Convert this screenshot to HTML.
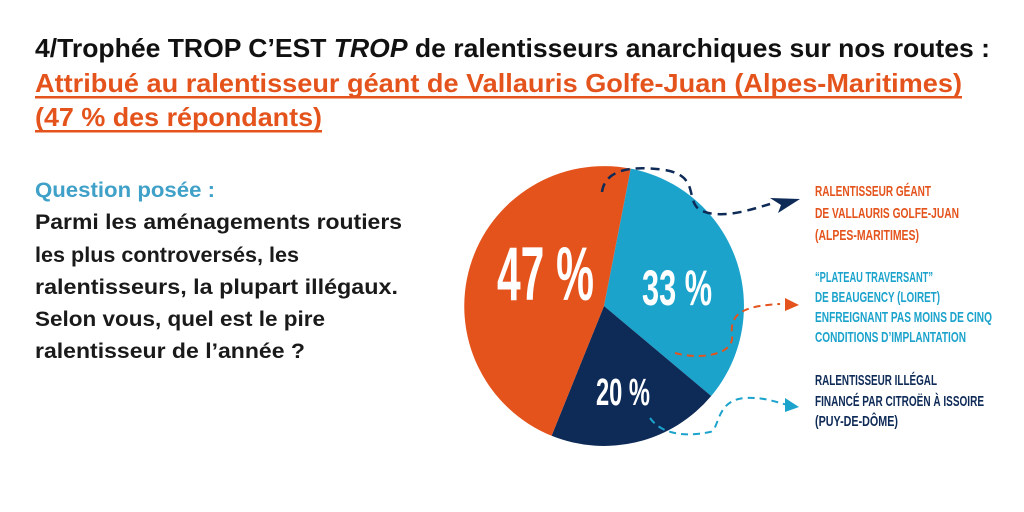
<!DOCTYPE html>
<html><head><meta charset="utf-8"><style>
html,body{margin:0;padding:0;background:#fff;}
svg{display:block;}
text{font-family:"Liberation Sans Narrow","Liberation Sans",sans-serif;}
.t{font-family:"Liberation Sans",sans-serif;font-weight:bold;}
</style></head><body>
<svg width="1024" height="512" viewBox="0 0 1024 512" xmlns="http://www.w3.org/2000/svg">
<rect width="1024" height="512" fill="#fff"/>
<text class="t" x="35" y="57" font-size="26" fill="#111" textLength="955" lengthAdjust="spacingAndGlyphs">4/Trophée TROP C’EST <tspan font-style="italic">TROP</tspan> de ralentisseurs anarchiques sur nos routes :</text>
<text class="t" x="35" y="92" font-size="26" fill="#e4531c" textLength="927" lengthAdjust="spacingAndGlyphs">Attribué au ralentisseur géant de Vallauris Golfe-Juan (Alpes-Maritimes)</text>
<rect x="35" y="96" width="927" height="2.5" fill="#e4531c"/>
<text class="t" x="35" y="126" font-size="26" fill="#e4531c" textLength="287" lengthAdjust="spacingAndGlyphs">(47 % des répondants)</text>
<rect x="35" y="130" width="287" height="2.5" fill="#e4531c"/>

<text class="t" x="35" y="197" font-size="21" fill="#3fa0c8" textLength="180" lengthAdjust="spacingAndGlyphs">Question posée :</text>
<g class="t" font-size="21" fill="#1a1a1a">
<text class="t" x="35" y="229" textLength="367" lengthAdjust="spacingAndGlyphs">Parmi les aménagements routiers</text>
<text class="t" x="35" y="262" textLength="264" lengthAdjust="spacingAndGlyphs">les plus controversés, les</text>
<text class="t" x="35" y="294" textLength="363" lengthAdjust="spacingAndGlyphs">ralentisseurs, la plupart illégaux.</text>
<text class="t" x="35" y="326" textLength="290" lengthAdjust="spacingAndGlyphs">Selon vous, quel est le pire</text>
<text class="t" x="35" y="358" textLength="270" lengthAdjust="spacingAndGlyphs">ralentisseur de l’année ?</text>
</g>

<path d="M604,306 L630.7,168.6 A140,140 0 0 1 711.2,396.0 Z" fill="#1ba3cc"/>
<path d="M604,306 L711.2,396.0 A140,140 0 0 1 551.6,435.8 Z" fill="#0e2a57"/>
<path d="M604,306 L551.6,435.8 A140,140 0 0 1 630.7,168.6 Z" fill="#e4531c"/>

<text x="497" y="300" font-size="76" font-weight="bold" fill="#fff" textLength="97" lengthAdjust="spacingAndGlyphs">47 %</text>
<text x="642" y="305" font-size="50" font-weight="bold" fill="#fff" textLength="70" lengthAdjust="spacingAndGlyphs">33 %</text>
<text x="596" y="405" font-size="38" font-weight="bold" fill="#fff" textLength="54" lengthAdjust="spacingAndGlyphs">20 %</text>

<path d="M602,192 C605,170 630,165 665,170 C700,176 685,200 700,210 C720,220 750,210 770,204" fill="none" stroke="#0e2a57" stroke-width="2.5" stroke-dasharray="9,6"/>
<path d="M770,198 L800,199 L778,213 L781,205 Z" fill="#0e2a57"/>
<path d="M675,353 C700,360 735,355 732,335 C730,315 740,306 780,304" fill="none" stroke="#e4531c" stroke-width="2" stroke-dasharray="7,5"/>
<path d="M785,298 L799,305 L785,311 Z" fill="#e4531c"/>
<path d="M650,418 C660,432 680,438 710,432 C720,430 715,400 745,398 C765,397 775,402 788,405" fill="none" stroke="#1ba3cc" stroke-width="2" stroke-dasharray="7,5"/>
<path d="M785,398 L799,407 L785,412 Z" fill="#1ba3cc"/>

<g font-size="15" font-weight="bold">
<text x="815" y="196" fill="#e4531c" textLength="116" lengthAdjust="spacingAndGlyphs">RALENTISSEUR GÉANT</text>
<text x="815" y="218" fill="#e4531c" textLength="144" lengthAdjust="spacingAndGlyphs">DE VALLAURIS GOLFE-JUAN</text>
<text x="815" y="240" fill="#e4531c" textLength="104" lengthAdjust="spacingAndGlyphs">(ALPES-MARITIMES)</text>
<text x="815" y="282" fill="#1ba3cc" textLength="118" lengthAdjust="spacingAndGlyphs">“PLATEAU TRAVERSANT”</text>
<text x="815" y="302" fill="#1ba3cc" textLength="125" lengthAdjust="spacingAndGlyphs">DE BEAUGENCY (LOIRET)</text>
<text x="815" y="322" fill="#1ba3cc" textLength="177" lengthAdjust="spacingAndGlyphs">ENFREIGNANT PAS MOINS DE CINQ</text>
<text x="815" y="342" fill="#1ba3cc" textLength="151" lengthAdjust="spacingAndGlyphs">CONDITIONS D’IMPLANTATION</text>
<text x="815" y="385" fill="#0e2a57" textLength="122" lengthAdjust="spacingAndGlyphs">RALENTISSEUR ILLÉGAL</text>
<text x="815" y="406" fill="#0e2a57" textLength="169" lengthAdjust="spacingAndGlyphs">FINANCÉ PAR CITROËN À ISSOIRE</text>
<text x="815" y="426" fill="#0e2a57" textLength="83" lengthAdjust="spacingAndGlyphs">(PUY-DE-DÔME)</text>
</g>
</svg>
</body></html>
